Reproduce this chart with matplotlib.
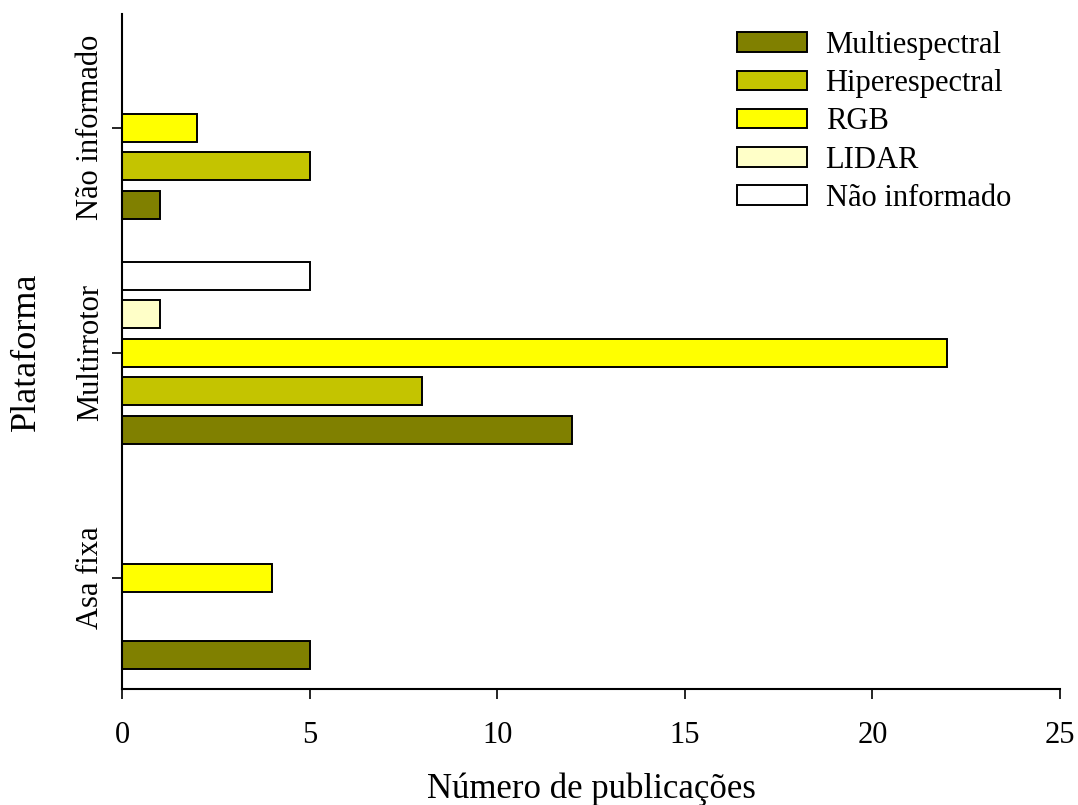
import matplotlib
matplotlib.use("Agg")
import matplotlib.pyplot as plt
import numpy as np

plt.rcParams['font.family'] = ['Liberation Serif', 'DejaVu Serif']

categories = ["Asa fixa", "Multirrotor", "Não informado"]
series = ["Multiespectral", "Hiperespectral", "RGB", "LIDAR", "Não informado"]
multiespectral = [5, 12, 1]
hiperespectral = [0, 8, 5]
rgb = [4, 22, 2]
lidar = [0, 1, 0]
nao_informado = [0, 5, 0]
values = [multiespectral, hiperespectral, rgb, lidar, nao_informado]
colors = ["#808000", "#C4C400", "#FFFF00", "#FFFFC8", "#FFFFFF"]

fig = plt.figure(figsize=(10.78, 8.05), dpi=100)
ax = fig.add_axes([122/1078, 1-689/805, (1060-122)/1078, (689-14)/805])

y = np.arange(len(categories))
step = 0.171
h = 0.124
for i, (name, vals, c) in enumerate(zip(series, values, colors)):
    off = (i - 2) * step
    ypos = [yy + off for yy, v in zip(y, vals) if v > 0]
    vv = [v for v in vals if v > 0]
    ax.barh(ypos, vv, height=h, color=c, edgecolor='black', linewidth=1.4, label=name)

ax.set_xlim(0, 25)
ax.set_ylim(-0.495, 2.505)
ax.set_xticks([0, 5, 10, 15, 20, 25])
ax.set_yticks(y)
ax.set_yticklabels(categories, rotation=90, va='center')
ax.tick_params(axis='both', labelsize=22, direction='out', length=7, width=1.2)
ax.tick_params(axis='x', pad=16)
ax.tick_params(axis='y', pad=5)
for s in ['top', 'right']:
    ax.spines[s].set_visible(False)
for s in ['left', 'bottom']:
    ax.spines[s].set_linewidth(1.5)

ax.set_xlabel("Número de publicações", fontsize=25, labelpad=16)
ax.set_ylabel("Plataforma", fontsize=26, labelpad=24)

leg = fig.legend(loc='upper left', frameon=False, fontsize=22,
                 handlelength=2.3, handleheight=0.62, labelspacing=0.3,
                 handletextpad=0.6, borderpad=0, borderaxespad=0,
                 bbox_to_anchor=(737/1078, 1-31/805))

fig.savefig("out.png", dpi=100)
